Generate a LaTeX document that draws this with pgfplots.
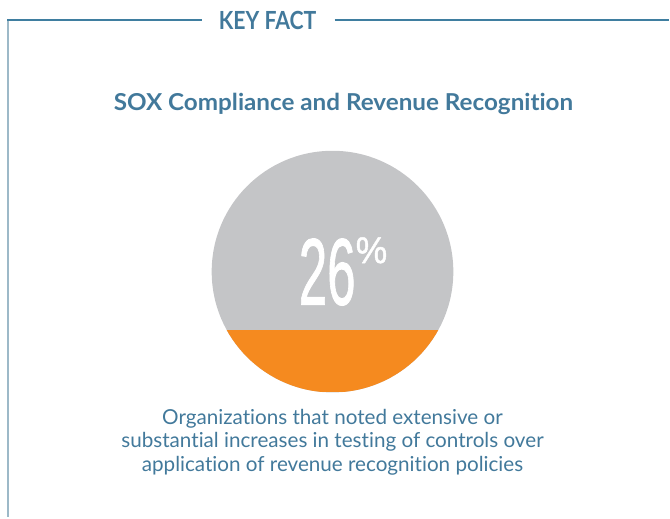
\documentclass[border=0pt]{standalone}
\usepackage{fontspec}
\setmainfont{Lato}[Ligatures={NoCommon}]
\newfontfamily\numfont{Liberation Sans}[FakeBold=1.2]
\usepackage{pgfplots}
\pgfplotsset{compat=1.18}
\definecolor{txtblue}{HTML}{42799B}
\definecolor{lineblue}{HTML}{3F7EA0}
\definecolor{lightline}{HTML}{9DB9C8}
\definecolor{circgray}{HTML}{C4C5C7}
\definecolor{orangefill}{HTML}{F58A1F}
\begin{document}
\begin{tikzpicture}
\begin{axis}[x=0.75pt,y=0.75pt,xmin=0,xmax=670,ymin=0,ymax=518,y dir=reverse,hide axis,clip=false]
\path (axis cs:0,0) rectangle (axis cs:670,518);
% frame
\draw[lightline, line width=1.5pt] (axis cs:8,20) -- (axis cs:8,518);
\draw[lineblue, line width=1.5pt] (axis cs:7.25,20) -- (axis cs:202,20);
\draw[lineblue, line width=1.5pt] (axis cs:335,20) -- (axis cs:670,20);
\node[anchor=base, text=txtblue, font=\bfseries\fontsize{18.75}{20}\selectfont, inner sep=0] at (axis cs:268,30) {\scalebox{0.85}[1]{KEY FACT}};
\node[anchor=base, text=txtblue, font=\bfseries\fontsize{17.5}{19}\selectfont, inner sep=0] at (axis cs:344,111) {\scalebox{1.04}[1]{SOX Compliance and Revenue Recognition}};
% circle
\fill[circgray] (axis cs:333,272) circle[radius=90.75pt];
\begin{scope}
\clip (axis cs:333,272) circle[radius=90.75pt];
% 26% of the circle's height, filled from the bottom (y from 393 up to 330)
\addplot[fill=orangefill, draw=none] coordinates {(200,393) (470,393) (470,330) (200,330)} -- cycle;
\end{scope}
\node[anchor=base west, text=white, inner sep=0, font=\numfont\fontsize{71}{71}\selectfont] at (axis cs:299,305) {\scalebox{0.54}[1]{26}};
\node[anchor=base west, text=white, inner sep=0, font=\numfont\fontsize{28}{28}\selectfont] at (axis cs:356,263.5) {\scalebox{0.95}[1]{\%}};
% caption
\node[anchor=base, text=txtblue, inner sep=0, font=\fontsize{15.5}{18}\selectfont] at (axis cs:333,425) {Organizations that noted extensive or};
\node[anchor=base, text=txtblue, inner sep=0, font=\fontsize{15.5}{18}\selectfont] at (axis cs:333,448) {substantial increases in testing of controls over};
\node[anchor=base, text=txtblue, inner sep=0, font=\fontsize{15.5}{18}\selectfont] at (axis cs:333,472) {application of revenue recognition policies};
\end{axis}
\end{tikzpicture}
\end{document}
